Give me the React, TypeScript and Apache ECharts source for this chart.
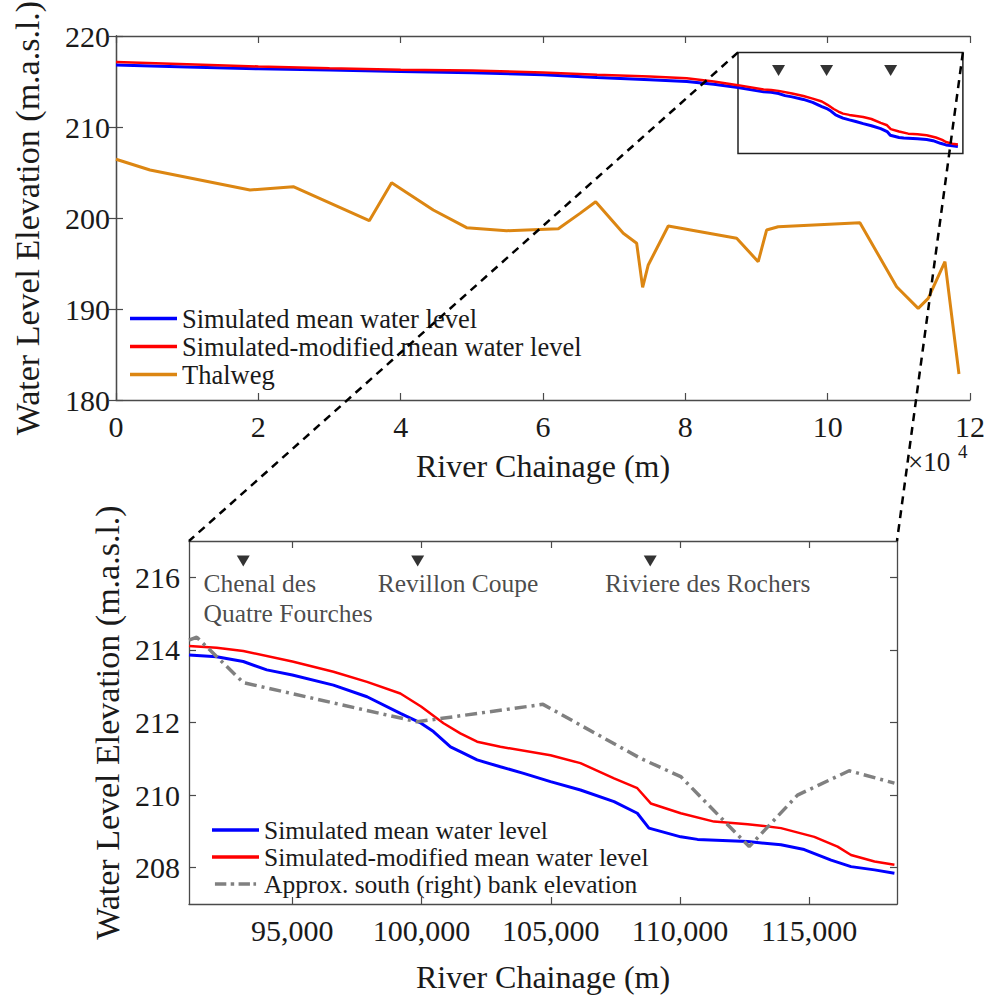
import React, { useEffect, useRef } from 'react';
import * as echarts from 'echarts';

const FONT = '"Liberation Serif", "Times New Roman", serif';
const TXT = '#1a1a1a';
const AXIS = '#4a4a4a';

// ---------- Top chart (full reach) ----------
const chainTopWL = [0, 10000, 20000, 30000, 40000, 50000, 60000, 67600, 75000, 80200, 84000, 87400];
const blueTopWL = [216.8, 216.6, 216.4, 216.25, 216.1, 215.95, 215.75, 215.45, 215.2, 215.0, 214.7, 214.35];
const redTopWL = [217.15, 216.9, 216.65, 216.45, 216.3, 216.2, 216.0, 215.75, 215.55, 215.35, 215.0, 214.6];

const chainThalweg = [0, 4780, 18830, 24910, 35590, 38730, 44580, 49270, 54890, 62150, 65200, 67400, 71280, 73160, 74000, 74790, 77600, 87210, 90240, 91420, 93050, 104530, 109690, 112720, 114130, 116480, 118450];
const thalweg = [206.45, 205.27, 203.08, 203.44, 199.7, 203.88, 200.88, 198.94, 198.6, 198.82, 200.51, 201.79, 198.32, 197.22, 192.38, 194.84, 199.12, 197.77, 195.2, 198.68, 199.04, 199.48, 192.45, 190.07, 191.17, 195.2, 182.86];

// ---------- Bottom chart (zoomed reach) ----------
const chainBlue = [91000, 92070, 93100, 94010, 95000, 96590, 97890, 99180, 99980, 100460, 101120, 101500, 102150, 103050, 103950, 104990, 106150, 107450, 108350, 108800, 110030, 110680, 112620, 113910, 114810, 115850, 116620, 117530, 118300];
const blueWL = [213.86, 213.81, 213.68, 213.45, 213.31, 213.03, 212.71, 212.25, 211.98, 211.75, 211.33, 211.2, 210.97, 210.78, 210.6, 210.37, 210.14, 209.82, 209.5, 209.09, 208.85, 208.78, 208.72, 208.63, 208.5, 208.21, 208.03, 207.94, 207.85];

const chainRed = [91000, 92070, 93100, 95000, 96590, 97890, 99180, 99980, 100850, 101500, 102150, 103050, 104990, 106150, 107450, 108350, 108870, 110030, 111320, 112620, 113910, 115200, 116100, 116620, 117530, 118300];
const redWL = [214.11, 214.06, 213.97, 213.68, 213.4, 213.12, 212.8, 212.44, 211.98, 211.7, 211.47, 211.33, 211.1, 210.88, 210.46, 210.19, 209.77, 209.5, 209.27, 209.2, 209.09, 208.85, 208.58, 208.35, 208.17, 208.08];

const chainBank = [91000, 91300, 93100, 99830, 104700, 108480, 110030, 112680, 114550, 116550, 118300];
const bankElev = [214.27, 214.35, 213.1, 212.02, 212.5, 211.01, 210.51, 208.58, 210.0, 210.67, 210.33];

const siteChain = [93100, 99850, 108850];
const siteMarkerTopY = 216.2;
const siteMarkerBottomY = 216.45;
const siteLabelChain = [91580, 98320, 107120];
const siteLabelY = 216.24;
const siteNames = ['Chenal des\nQuatre Fourches', 'Revillon Coupe', 'Riviere des Rochers'];

const zoomBox = { x0: 87400, x1: 119000, y0: 207.1, y1: 218.2 };

const topXTicksMax = 120000;
const bottomXTicks = [95000, 100000, 105000, 110000, 115000];
const bottomYTicks = [208, 210, 212, 214, 216];

const NAME_BLUE = 'Simulated mean water level';
const NAME_RED = 'Simulated-modified mean water level';
const NAME_THAL = 'Thalweg';
const NAME_BANK = 'Approx. south (right) bank elevation';

const zip = (xs: number[], ys: number[]) => xs.map((x, i) => [x, ys[i]]);

const axisLineStyle = { show: true, lineStyle: { color: AXIS, width: 1.3 } };
const tickStyle = { show: true, inside: true, length: 7, lineStyle: { color: AXIS, width: 1.2 } };
const labelStyle = { fontFamily: FONT, color: TXT, fontSize: 30 };
const nameStyleX = { fontFamily: FONT, color: TXT, fontSize: 32 };
const nameStyleY = { fontFamily: FONT, color: TXT, fontSize: 34 };
const DASHDOT_ICON = 'path://M0,0h13v4h-13z M18,0h4v4h-4z M27,0h13v4h-13z M44,0h3v4h-3z';

export default function App() {
  const ref = useRef<HTMLDivElement>(null);
  useEffect(() => {
    document.body.style.margin = '0';
    const chart = echarts.init(ref.current!, null, { renderer: 'svg' });
    const option: any = {
      animation: false,
      backgroundColor: '#ffffff',
      grid: [
        { left: 116, top: 36, width: 854, height: 364, containLabel: false, outerBoundsMode: 'none' },
        { left: 189, top: 541, width: 708, height: 363, containLabel: false, outerBoundsMode: 'none' },
      ],
      xAxis: [
        {
          gridIndex: 0, type: 'value', min: 0, max: topXTicksMax, interval: 20000, position: 'bottom',
          axisLine: axisLineStyle, axisTick: tickStyle, splitLine: { show: false },
          axisLabel: { ...labelStyle, margin: 11, formatter: (v: number) => String(v / 10000) },
          name: 'River Chainage (m)', nameLocation: 'middle', nameGap: 50, nameTextStyle: nameStyleX,
        },
        {
          gridIndex: 0, type: 'value', min: 0, max: topXTicksMax, interval: 20000, position: 'top',
          axisLine: axisLineStyle, axisTick: tickStyle, splitLine: { show: false }, axisLabel: { show: false },
        },
        {
          gridIndex: 1, type: 'value', min: 91000, max: 118400, position: 'bottom',
          axisLine: axisLineStyle, splitLine: { show: false },
          axisTick: { ...tickStyle, customValues: bottomXTicks },
          axisLabel: { ...labelStyle, margin: 11, customValues: bottomXTicks, formatter: (v: number) => v.toLocaleString('en-US') },
          name: 'River Chainage (m)', nameLocation: 'middle', nameGap: 57, nameTextStyle: nameStyleX,
        },
        {
          gridIndex: 1, type: 'value', min: 91000, max: 118400, position: 'top',
          axisLine: axisLineStyle, splitLine: { show: false },
          axisTick: { ...tickStyle, customValues: bottomXTicks }, axisLabel: { show: false, customValues: bottomXTicks },
        },
      ],
      yAxis: [
        {
          gridIndex: 0, type: 'value', min: 180, max: 220, interval: 10, position: 'left',
          axisLine: axisLineStyle, axisTick: tickStyle, splitLine: { show: false },
          axisLabel: { ...labelStyle, margin: 6 },
          name: 'Water Level Elevation (m.a.s.l.)', nameLocation: 'middle', nameGap: 72, nameTextStyle: nameStyleY,
        },
        {
          gridIndex: 0, type: 'value', min: 180, max: 220, interval: 10, position: 'right',
          axisLine: axisLineStyle, axisTick: tickStyle, splitLine: { show: false }, axisLabel: { show: false },
        },
        {
          gridIndex: 1, type: 'value', min: 207, max: 217, position: 'left',
          axisLine: axisLineStyle, splitLine: { show: false },
          axisTick: { ...tickStyle, customValues: bottomYTicks },
          axisLabel: { ...labelStyle, margin: 9, customValues: bottomYTicks },
          name: 'Water Level Elevation (m.a.s.l.)', nameLocation: 'middle', nameGap: 61, nameTextStyle: nameStyleY,
        },
        {
          gridIndex: 1, type: 'value', min: 207, max: 217, position: 'right',
          axisLine: axisLineStyle, splitLine: { show: false },
          axisTick: { ...tickStyle, customValues: bottomYTicks }, axisLabel: { show: false, customValues: bottomYTicks },
        },
      ],
      legend: [
        {
          data: [
            { name: NAME_BLUE, icon: 'rect' },
            { name: NAME_RED, icon: 'rect' },
            { name: NAME_THAL, icon: 'rect' },
          ],
          orient: 'vertical', left: 130, top: 305, padding: 0,
          itemWidth: 47, itemHeight: 3.5, itemGap: 1, selectedMode: false,
          textStyle: { fontFamily: FONT, fontSize: 26.5, lineHeight: 26, color: TXT },
        },
        {
          data: [
            { name: NAME_BLUE, icon: 'rect' },
            { name: NAME_RED, icon: 'rect' },
            { name: NAME_BANK, icon: DASHDOT_ICON },
          ],
          orient: 'vertical', left: 212, top: 817, padding: 0,
          itemWidth: 47, itemHeight: 3.5, itemGap: 1, selectedMode: false,
          textStyle: { fontFamily: FONT, fontSize: 25.5, lineHeight: 25, color: TXT },
        },
      ],
      series: [
        {
          name: NAME_THAL, type: 'line', xAxisIndex: 0, yAxisIndex: 0, showSymbol: false, symbol: 'none',
          data: zip(chainThalweg, thalweg), lineStyle: { color: '#DC8612', width: 3 }, itemStyle: { color: '#DC8612' },
        },
        {
          name: NAME_BLUE, type: 'line', xAxisIndex: 0, yAxisIndex: 0, showSymbol: false, symbol: 'none',
          data: zip(chainTopWL, blueTopWL).concat(zip(chainBlue, blueWL)),
          lineStyle: { color: '#0000ff', width: 3 }, itemStyle: { color: '#0000ff' },
        },
        {
          name: NAME_RED, type: 'line', xAxisIndex: 0, yAxisIndex: 0, showSymbol: false, symbol: 'none',
          data: zip(chainTopWL, redTopWL).concat(zip(chainRed, redWL)),
          lineStyle: { color: '#ff0000', width: 2.5 }, itemStyle: { color: '#ff0000' },
        },
        {
          name: 'topSites', type: 'scatter', xAxisIndex: 0, yAxisIndex: 0,
          data: siteChain.map((x) => [x, siteMarkerTopY]),
          symbol: 'triangle', symbolRotate: 180, symbolSize: [13, 11], itemStyle: { color: '#000' },
          markArea: {
            silent: true,
            itemStyle: { color: 'rgba(0,0,0,0)', borderColor: '#222', borderWidth: 1.5 },
            data: [[{ coord: [zoomBox.x0, zoomBox.y1] }, { coord: [zoomBox.x1, zoomBox.y0] }]],
          },
        },
        {
          name: NAME_BLUE, type: 'line', xAxisIndex: 2, yAxisIndex: 2, showSymbol: false, symbol: 'none',
          data: zip(chainBlue, blueWL), lineStyle: { color: '#0000ff', width: 3 }, itemStyle: { color: '#0000ff' },
        },
        {
          name: NAME_RED, type: 'line', xAxisIndex: 2, yAxisIndex: 2, showSymbol: false, symbol: 'none',
          data: zip(chainRed, redWL), lineStyle: { color: '#ff0000', width: 2.5 }, itemStyle: { color: '#ff0000' },
        },
        {
          name: NAME_BANK, type: 'line', xAxisIndex: 2, yAxisIndex: 2, showSymbol: false, symbol: 'none',
          data: zip(chainBank, bankElev),
          lineStyle: { color: '#808080', width: 3.5, type: [12, 5, 3, 5] }, itemStyle: { color: '#808080' },
        },
        {
          name: 'bottomSites', type: 'scatter', xAxisIndex: 2, yAxisIndex: 2,
          data: siteChain.map((x) => [x, siteMarkerBottomY]),
          symbol: 'triangle', symbolRotate: 180, symbolSize: [13, 11], itemStyle: { color: '#000' },
        },
        {
          name: 'siteLabels', type: 'scatter', xAxisIndex: 2, yAxisIndex: 2,
          data: siteLabelChain.map((x, i) => ({ value: [x, siteLabelY], name: siteNames[i] })),
          symbolSize: 1, itemStyle: { color: 'rgba(0,0,0,0)' },
          label: {
            show: true, position: [0, 0], align: 'left', verticalAlign: 'top',
            formatter: (p: any) => p.name, fontFamily: FONT, fontSize: 25.5, lineHeight: 30, color: TXT,
          },
        },
      ],
    };
    chart.setOption(option);

    const tl = chart.convertToPixel({ gridIndex: 0 }, [zoomBox.x0, zoomBox.y1]) as number[];
    const tr = chart.convertToPixel({ gridIndex: 0 }, [zoomBox.x1, zoomBox.y1]) as number[];
    const bl = chart.convertToPixel({ gridIndex: 1 }, [91000, 217]) as number[];
    const br = chart.convertToPixel({ gridIndex: 1 }, [118400, 217]) as number[];
    const axEnd = chart.convertToPixel({ gridIndex: 0 }, [120000, 180]) as number[];
    const dash = { stroke: '#000', lineWidth: 2.5, lineDash: [8, 6] };
    chart.setOption({
      graphic: [
        { type: 'line', z: 100, shape: { x1: tl[0], y1: tl[1], x2: bl[0], y2: bl[1] }, style: dash },
        { type: 'line', z: 100, shape: { x1: tr[0], y1: tr[1], x2: br[0], y2: br[1] }, style: dash },
        {
          type: 'text', z: 100, x: axEnd[0] - 62, y: axEnd[1] + 62,
          style: { text: '×10', fontFamily: FONT, fontSize: 27, fill: TXT, verticalAlign: 'middle', align: 'left' },
        },
        {
          type: 'text', z: 100, x: axEnd[0] - 12, y: axEnd[1] + 51,
          style: { text: '4', fontFamily: FONT, fontSize: 19, fill: TXT, verticalAlign: 'middle', align: 'left' },
        },
      ],
    });
    return () => chart.dispose();
  }, []);
  return <div ref={ref} style={{ position: 'absolute', left: 0, top: 0, width: 987, height: 995 }} />;
}
